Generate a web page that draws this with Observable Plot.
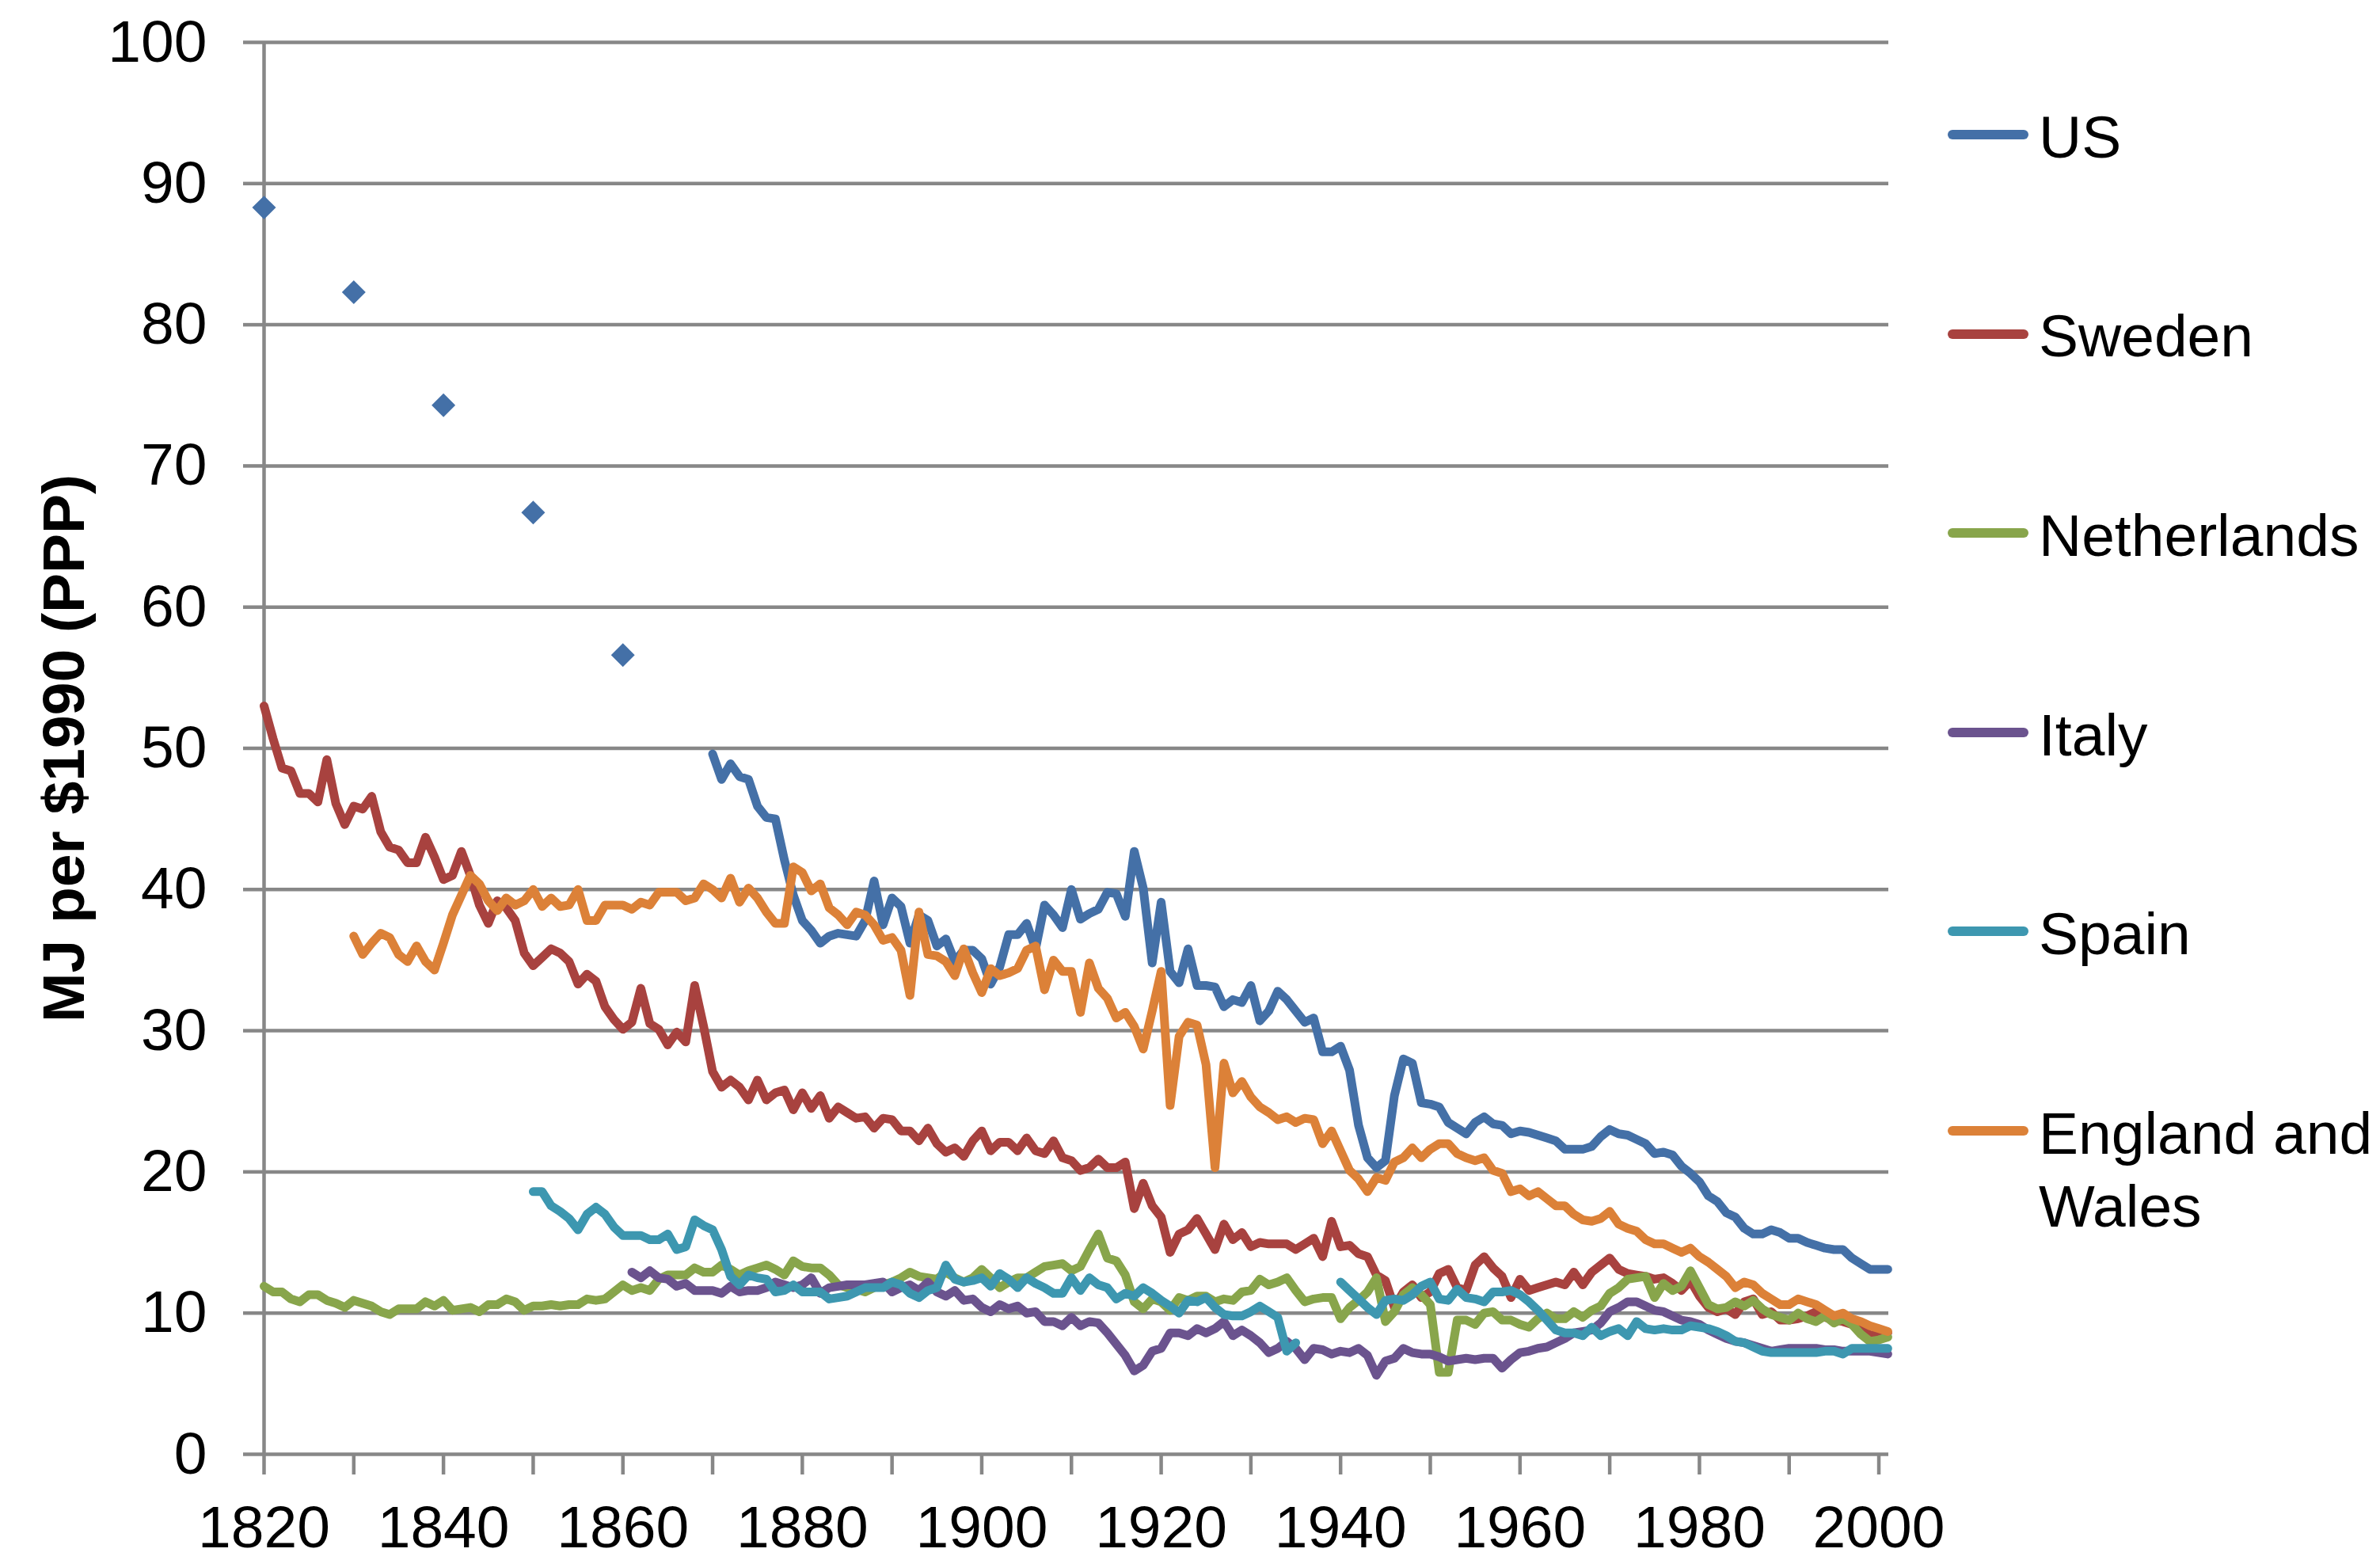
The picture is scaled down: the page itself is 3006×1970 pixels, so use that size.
<!DOCTYPE html>
<html>
<head>
<meta charset="utf-8">
<script src="https://cdn.jsdelivr.net/npm/d3@7"></script>
<script src="https://cdn.jsdelivr.net/npm/@observablehq/plot@0.6"></script>
<style>
  html, body { margin: 0; padding: 0; background: #ffffff; }
  #chart { position: relative; width: 3006px; height: 1970px; font-family: "Liberation Sans", Arial, sans-serif; }
  #chart svg { position: absolute; left: 0; top: 0; }
  .lg-line { position: absolute; height: 12px; border-radius: 6px; }
  .lg-text { position: absolute; font-size: 75px; line-height: 92px; color: #000; white-space: nowrap; }
</style>
</head>
<body>
<div id="chart"></div>
<script>
// ---------- DATA ----------
const countries = ["US", "Sweden", "Netherlands", "Italy", "Spain", "England and Wales"];
const colors = ["#4470a7", "#a8423f", "#88a54b", "#6b538e", "#3d97b0", "#dc8138"];

// Early US benchmark points (diamonds)
const usDotYears = [1820, 1830, 1840, 1850, 1860];
const usDotValues = [88.3, 82.3, 74.3, 66.7, 56.6];

// Annual series: first year + consecutive yearly values (one row per decade)
const usStart = 1870;
const usValues = [
  49.6, 47.8, 48.9, 48.0, 47.8, 45.9, 45.1, 45.0, 42.1, 39.6,
  37.8, 37.1, 36.2, 36.7, 36.9, 36.8, 36.7, 37.8, 40.6, 37.5,
  39.4, 38.8, 36.2, 38.2, 37.8, 36.0, 36.5, 34.9, 35.7, 35.7,
  35.1, 33.3, 34.5, 36.8, 36.8, 37.6, 35.8, 38.9, 38.2, 37.3,
  40.0, 37.9, 38.3, 38.6, 39.8, 39.7, 38.1, 42.7, 40.1, 34.8,
  39.1, 34.2, 33.4, 35.8, 33.2, 33.2, 33.1, 31.7, 32.2, 32.0,
  33.2, 30.7, 31.4, 32.8, 32.2, 31.4, 30.6, 30.9, 28.5, 28.5,
  28.9, 27.2, 23.3, 21.0, 20.3, 20.8, 25.4, 28.0, 27.7, 24.9,
  24.8, 24.6, 23.5, 23.1, 22.7, 23.5, 23.9, 23.4, 23.3, 22.7,
  22.9, 22.8, 22.6, 22.4, 22.2, 21.6, 21.6, 21.6, 21.8, 22.5,
  23.0, 22.7, 22.6, 22.3, 22.0, 21.3, 21.4, 21.2, 20.4, 19.9,
  19.3, 18.3, 17.9, 17.1, 16.8, 16.0, 15.6, 15.6, 15.9, 15.7,
  15.3, 15.3, 15.0, 14.8, 14.6, 14.5, 14.5, 13.9, 13.5, 13.1,
  13.1, 13.1
];

const swedenStart = 1820;
const swedenValues = [
  53.0, 50.7, 48.6, 48.4, 46.8, 46.8, 46.2, 49.2, 46.1, 44.6,
  45.9, 45.7, 46.6, 44.1, 43.0, 42.8, 41.9, 41.9, 43.7, 42.3,
  40.7, 41.0, 42.7, 41.0, 38.9, 37.6, 39.2, 38.7, 37.8, 35.5,
  34.6, 35.2, 35.8, 35.5, 34.9, 33.3, 34.0, 33.5, 31.7, 30.8,
  30.1, 30.6, 33.0, 30.5, 30.1, 29.0, 29.9, 29.2, 33.2, 30.3,
  27.1, 26.0, 26.5, 26.0, 25.1, 26.5, 25.1, 25.6, 25.8, 24.4,
  25.6, 24.5, 25.4, 23.8, 24.6, 24.2, 23.8, 23.9, 23.1, 23.8,
  23.7, 22.9, 22.9, 22.2, 23.1, 22.0, 21.4, 21.7, 21.1, 22.2,
  22.9, 21.5, 22.1, 22.1, 21.5, 22.4, 21.5, 21.3, 22.2, 21.0,
  20.8, 20.1, 20.3, 20.9, 20.3, 20.3, 20.7, 17.4, 19.2, 17.6,
  16.8, 14.3, 15.6, 15.9, 16.7, 15.6, 14.5, 16.3, 15.2, 15.7,
  14.7, 15.0, 14.9, 14.9, 14.9, 14.5, 14.9, 15.3, 14.0, 16.5,
  14.7, 14.8, 14.2, 14.0, 12.7, 12.3, 10.4, 11.5, 12.0, 11.1,
  11.5, 12.8, 13.1, 11.8, 11.6, 13.4, 14.0, 13.2, 12.6, 11.1,
  12.4, 11.6, 11.8, 12.0, 12.2, 12.0, 12.9, 12.0, 12.9, 13.4,
  13.9, 13.1, 12.8, 12.7, 12.6, 12.4, 12.5, 12.1, 11.6, 12.3,
  11.2, 10.4, 10.1, 10.3, 9.9, 10.8, 11.0, 9.9, 10.1, 9.5,
  9.5, 9.6, 9.8, 10.1, 9.7, 9.5, 9.4, 9.2, 9.0, 8.4,
  8.6, 8.6
];

const netherlandsStart = 1820;
const netherlandsValues = [
  11.9, 11.5, 11.5, 11.0, 10.8, 11.3, 11.3, 10.9, 10.7, 10.4,
  10.9, 10.7, 10.5, 10.1, 9.9, 10.3, 10.3, 10.3, 10.8, 10.5,
  10.9, 10.2, 10.3, 10.4, 10.1, 10.6, 10.6, 11.0, 10.8, 10.2,
  10.5, 10.5, 10.6, 10.5, 10.6, 10.6, 11.0, 10.9, 11.0, 11.5,
  12.0, 11.6, 11.8, 11.6, 12.4, 12.7, 12.7, 12.7, 13.2, 12.9,
  12.9, 13.4, 13.1, 12.7, 13.0, 13.2, 13.4, 13.1, 12.7, 13.7,
  13.3, 13.2, 13.2, 12.7, 12.0, 11.8, 11.7, 11.5, 11.8, 12.0,
  12.2, 12.5, 12.9, 12.6, 12.5, 12.4, 12.9, 12.5, 12.2, 12.5,
  13.1, 12.5, 11.8, 12.2, 12.5, 12.5, 12.9, 13.3, 13.4, 13.5,
  13.0, 13.3, 14.5, 15.6, 13.9, 13.7, 12.7, 10.8, 10.3, 11.0,
  10.8, 10.2, 11.1, 10.9, 11.2, 11.2, 10.8, 11.0, 10.9, 11.5,
  11.6, 12.4, 12.0, 12.2, 12.5, 11.6, 10.8, 11.0, 11.1, 11.1,
  9.6, 10.4, 10.9, 11.5, 12.5, 9.4, 10.1, 11.3, 11.8, 11.3,
  10.6, 5.8, 5.8, 9.5, 9.5, 9.2, 10.0, 10.1, 9.5, 9.5,
  9.2, 9.0, 9.6, 10.0, 9.6, 9.6, 10.1, 9.7, 10.2, 10.5,
  11.4, 11.8, 12.4, 12.5, 12.6, 11.1, 12.1, 11.6, 11.9, 13.0,
  11.8, 10.6, 10.3, 10.4, 10.8, 10.5, 10.9, 10.3, 9.9, 9.7,
  9.5, 10.0, 9.6, 9.4, 9.8, 9.3, 9.6, 9.2, 8.5, 8.0,
  8.1, 8.3
];

const italyStart = 1861;
const italyValues = [
  12.9, 12.5, 13.0, 12.5, 12.4, 11.9, 12.1, 11.6, 11.6,
  11.6, 11.4, 11.9, 11.5, 11.6, 11.6, 11.8, 12.2, 12.0, 11.8,
  12.0, 12.5, 11.4, 11.8, 11.9, 12.0, 12.0, 12.0, 12.1, 12.2,
  11.5, 11.8, 12.0, 11.6, 12.2, 11.5, 11.2, 11.6, 10.9, 11.0,
  10.4, 10.1, 10.6, 10.3, 10.5, 10.0, 10.1, 9.4, 9.4, 9.1,
  9.7, 9.1, 9.4, 9.3, 8.6, 7.8, 7.0, 5.9, 6.3, 7.3,
  7.5, 8.6, 8.6, 8.4, 8.9, 8.6, 8.9, 9.4, 8.4, 8.8,
  8.4, 7.9, 7.2, 7.5, 8.0, 7.5, 6.7, 7.5, 7.4, 7.1,
  7.3, 7.2, 7.5, 7.0, 5.6, 6.6, 6.8, 7.5, 7.2, 7.1,
  7.1, 6.9, 6.6, 6.7, 6.8, 6.7, 6.8, 6.8, 6.1, 6.7,
  7.2, 7.3, 7.5, 7.6, 7.9, 8.2, 8.6, 8.7, 8.8, 9.3,
  10.1, 10.4, 10.8, 10.8, 10.5, 10.2, 10.1, 9.8, 9.5, 9.4,
  9.2, 8.8, 8.5, 8.2, 8.0, 7.9, 7.7, 7.5, 7.3, 7.4,
  7.5, 7.5, 7.5, 7.5, 7.4, 7.4, 7.3, 7.3, 7.3, 7.3,
  7.2, 7.1
];

// Spain: no data 1936-1939 (null = gap)
const spainStart = 1850;
const spainValues = [
  18.6, 18.6, 17.6, 17.2, 16.7, 15.9, 17.0, 17.5, 17.0, 16.1,
  15.5, 15.5, 15.5, 15.2, 15.2, 15.6, 14.5, 14.7, 16.6, 16.2,
  15.9, 14.5, 12.6, 12.0, 12.7, 12.5, 12.4, 11.5, 11.6, 12.0,
  11.5, 11.5, 11.5, 11.0, 11.1, 11.2, 11.5, 11.8, 11.8, 11.8,
  12.2, 12.0, 11.4, 11.1, 11.6, 11.8, 13.4, 12.4, 12.2, 12.3,
  12.5, 11.9, 12.8, 12.4, 11.8, 12.5, 12.1, 11.8, 11.4, 11.4,
  12.5, 11.6, 12.5, 12.0, 11.8, 11.0, 11.4, 11.2, 11.8, 11.4,
  10.9, 10.5, 10.0, 10.9, 10.8, 11.1, 10.4, 9.9, 9.8, 9.8,
  10.1, 10.5, 10.1, 9.7, 7.3, 7.9, null, null, null, null,
  12.2, 11.6, 11.0, 10.4, 9.9, 10.9, 11.0, 10.9, 11.3, 11.9,
  12.2, 11.0, 10.9, 11.7, 11.1, 11.0, 10.8, 11.5, 11.5, 11.6,
  11.3, 10.8, 10.2, 9.5, 8.8, 8.6, 8.6, 8.4, 9.0, 8.4,
  8.7, 8.9, 8.4, 9.4, 8.9, 8.8, 8.9, 8.8, 8.8, 9.1,
  9.0, 8.9, 8.7, 8.4, 8.0, 7.9, 7.6, 7.3, 7.2, 7.2,
  7.2, 7.2, 7.2, 7.2, 7.3, 7.3, 7.1, 7.5, 7.5, 7.5,
  7.5, 7.5
];

const englandStart = 1830;
const englandValues = [
  36.7, 35.4, 36.2, 36.9, 36.6, 35.4, 34.9, 36.0, 34.9, 34.3,
  36.2, 38.2, 39.6, 41.0, 40.4, 39.2, 38.5, 39.4, 38.9, 39.2,
  40.0, 38.8, 39.4, 38.8, 38.9, 40.0, 37.8, 37.8, 38.9, 38.9,
  38.9, 38.6, 39.1, 38.9, 39.8, 39.8, 39.8, 39.2, 39.4, 40.4,
  40.0, 39.4, 40.8, 39.1, 40.1, 39.4, 38.4, 37.6, 37.6, 41.6,
  41.2, 39.9, 40.4, 38.7, 38.2, 37.5, 38.4, 38.2, 37.5, 36.4,
  36.6, 35.7, 32.5, 38.4, 35.4, 35.3, 34.9, 33.9, 35.8, 34.1,
  32.7, 34.4, 33.9, 34.1, 34.4, 35.7, 36.0, 32.9, 35.0, 34.2,
  34.2, 31.3, 34.8, 33.0, 32.3, 30.9, 31.3, 30.3, 28.7, 31.4,
  34.2, 24.7, 29.6, 30.6, 30.4, 27.6, 20.3, 27.7, 25.6, 26.4,
  25.3, 24.6, 24.2, 23.7, 23.9, 23.5, 23.8, 23.7, 22.0, 22.9,
  21.5, 20.1, 19.5, 18.6, 19.6, 19.4, 20.7, 21.0, 21.7, 21.0,
  21.6, 22.0, 22.0, 21.3, 21.0, 20.8, 21.0, 20.1, 19.9, 18.6,
  18.8, 18.3, 18.6, 18.1, 17.6, 17.6, 17.0, 16.6, 16.5, 16.7,
  17.2, 16.3, 16.0, 15.8, 15.2, 14.9, 14.9, 14.6, 14.3, 14.6,
  14.0, 13.6, 13.1, 12.6, 11.8, 12.2, 12.0, 11.4, 11.0, 10.6,
  10.6, 11.0, 10.8, 10.6, 10.2, 9.8, 10.0, 9.6, 9.4, 9.1,
  8.9, 8.7
];

const xLabelTicks = [1820, 1840, 1860, 1880, 1900, 1920, 1940, 1960, 1980, 2000];
const xMinorTicks = [1820, 1830, 1840, 1850, 1860, 1870, 1880, 1890, 1900, 1910, 1920, 1930, 1940, 1950, 1960, 1970, 1980, 1990, 2000];
const yTicks = [0, 10, 20, 30, 40, 50, 60, 70, 80, 90, 100];
const yTitle = "MJ per $1990 (PPP)";

// ---------- BUILD TABLE ----------
const seriesDefs = [
  [countries[0], usStart, usValues],
  [countries[1], swedenStart, swedenValues],
  [countries[2], netherlandsStart, netherlandsValues],
  [countries[3], italyStart, italyValues],
  [countries[4], spainStart, spainValues],
  [countries[5], englandStart, englandValues]
];
const rows = [];
for (const [country, start, vals] of seriesDefs) {
  vals.forEach((v, i) => rows.push({country, year: start + i, value: v}));
}
const usDots = usDotYears.map((y, i) => ({year: y, value: usDotValues[i]}));

const gridColor = "#878787";
const font = "'Liberation Sans', Arial, sans-serif";

const plot = Plot.plot({
  width: 3006,
  height: 1970,
  marginLeft: 333,
  marginRight: 621,
  marginTop: 53,
  marginBottom: 134,
  x: {domain: [1820, 2001.1]},
  y: {domain: [0, 100]},
  color: {domain: countries, range: colors},
  style: {fontFamily: font, fontSize: "75px", color: "#000", background: "#fff", overflow: "visible"},
  marks: [
    Plot.gridY(yTicks.slice(1), {stroke: gridColor, strokeOpacity: 1, strokeWidth: 4.5}),
    Plot.axisY(yTicks, {tickSize: 26, stroke: gridColor, strokeWidth: 4.5, tickFormat: () => "", label: null}),
    Plot.axisY(yTicks, {tickSize: 0, tickPadding: 72, fontSize: 75, tickFormat: d => String(d), label: null}),
    Plot.axisX(xMinorTicks, {tickSize: 26, stroke: gridColor, strokeWidth: 4.5, tickFormat: () => "", label: null}),
    Plot.axisX(xLabelTicks, {tickSize: 0, tickPadding: 64, fontSize: 75, tickFormat: d => String(d), label: null}),
    Plot.ruleX([1820], {stroke: gridColor, strokeWidth: 4.5}),
    Plot.ruleY([0], {stroke: gridColor, strokeWidth: 4.5}),
    Plot.line(rows, {x: "year", y: "value", z: "country", stroke: "country", strokeWidth: 11, strokeLinejoin: "round", strokeLinecap: "round"}),
    Plot.dot(usDots, {x: "year", y: "value", symbol: "diamond2", r: 13.5, fill: colors[0], stroke: null}),
    Plot.text([yTitle], {frameAnchor: "left", dx: -252, rotate: -90, textAnchor: "middle", fontSize: 75, fontWeight: "bold", fill: "#000"})
  ]
});

const chart = document.getElementById("chart");
chart.appendChild(plot);

// ---------- LEGEND ----------
const legendTop = 170, legendStep = 251.6;
countries.forEach((name, i) => {
  const cy = legendTop + i * legendStep;
  const ln = document.createElement("div");
  ln.className = "lg-line";
  ln.style.left = "2460px";
  ln.style.width = "102px";
  ln.style.top = (cy - 6) + "px";
  ln.style.background = colors[i];
  chart.appendChild(ln);
  const tx = document.createElement("div");
  tx.className = "lg-text";
  tx.style.left = "2575px";
  tx.style.top = (cy + 29 - 72.3) + "px";
  const parts = name === "England and Wales" ? ["England and", "Wales"] : [name];
  tx.innerHTML = parts.join("<br>");
  chart.appendChild(tx);
});
</script>
</body>
</html>
